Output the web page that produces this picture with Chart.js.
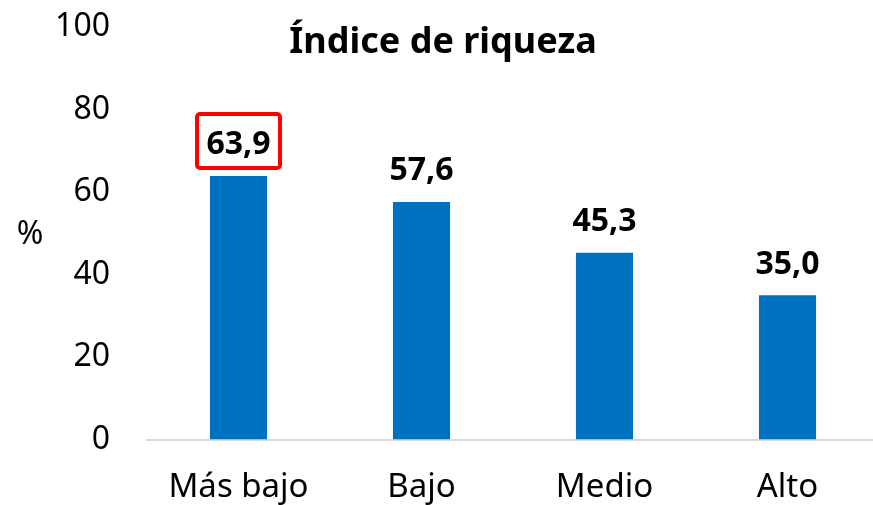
<!DOCTYPE html>
<html>
<head>
<meta charset="utf-8">
<script src="https://cdn.jsdelivr.net/npm/chart.js@4"></script>
<style>
  html, body { margin: 0; padding: 0; background: #fff; overflow: hidden; }
</style>
</head>
<body>
<canvas id="grafico" width="880" height="505"></canvas>
<script>
// datos
var categorias = ["Más bajo", "Bajo", "Medio", "Alto"];
var valores = [63.9, 57.6, 45.3, 35.0];
var destacados = [0]; // barras con recuadro rojo
var titulo = "Índice de riqueza";
var unidad = "%";

Chart.defaults.font.family = "'Noto Sans', sans-serif";
Chart.defaults.color = "#000";

function formato(v) {
    return v.toFixed(1).replace(".", ",");
}

// etiquetas de valor, titulo y "%"
var extras = {
    id: "extras",
    afterDatasetsDraw: function(chart) {
        var ctx = chart.ctx;
        var meta = chart.getDatasetMeta(0);
        ctx.save();
        ctx.fillStyle = "#000";
        ctx.textAlign = "center";
        ctx.textBaseline = "alphabetic";
        ctx.font = "bold 32px 'Noto Sans', sans-serif";
        meta.data.forEach(function(bar, i) {
            ctx.fillText(formato(valores[i]), bar.x, bar.y - 21.5);
            if (destacados.indexOf(i) >= 0) {
                ctx.strokeStyle = "#ff0000";
                ctx.lineWidth = 4;
                ctx.beginPath();
                ctx.roundRect(bar.x - 41.5, bar.y - 62, 83, 54, 3);
                ctx.stroke();
            }
        });

        ctx.font = "bold 36px 'Noto Sans', sans-serif";
        ctx.fillText(titulo, 443, 53);

        ctx.font = "32px 'Noto Sans', sans-serif";
        ctx.textBaseline = "middle";
        ctx.fillText(unidad, 30, 235);
        ctx.restore();
    }
};

new Chart(document.getElementById("grafico").getContext("2d"), {
    type: "bar",
    data: {
        labels: categorias,
        datasets: [{
            data: valores,
            backgroundColor: "#0070c0",
            borderWidth: 0,
            categoryPercentage: 1,
            barPercentage: 0.312
        }]
    },
    options: {
        responsive: false,
        animation: false,
        layout: {
            padding: { top: 27, right: 1, left: 0, bottom: 0 }
        },
        plugins: {
            legend: { display: false },
            title: { display: false },
            tooltip: { enabled: false }
        },
        scales: {
            x: {
                grid: { display: false, drawTicks: false },
                border: { display: true, color: "#d9d9d9", width: 2 },
                ticks: {
                    font: { size: 33 },
                    color: "#000",
                    padding: 28,
                    maxRotation: 0
                },
                afterFit: function(scale) {
                    scale.height = 65.5;
                    scale.paddingLeft = 0;
                    scale.paddingRight = 0;
                }
            },
            y: {
                min: 0,
                max: 100,
                grid: { display: false, drawTicks: false },
                border: { display: false },
                ticks: {
                    stepSize: 20,
                    font: { size: 32 },
                    color: "#000",
                    padding: 37
                },
                afterFit: function(scale) {
                    scale.width = 147;
                    scale.paddingTop = 0;
                    scale.paddingBottom = 0;
                }
            }
        }
    },
    plugins: [extras]
});
</script>
</body>
</html>
